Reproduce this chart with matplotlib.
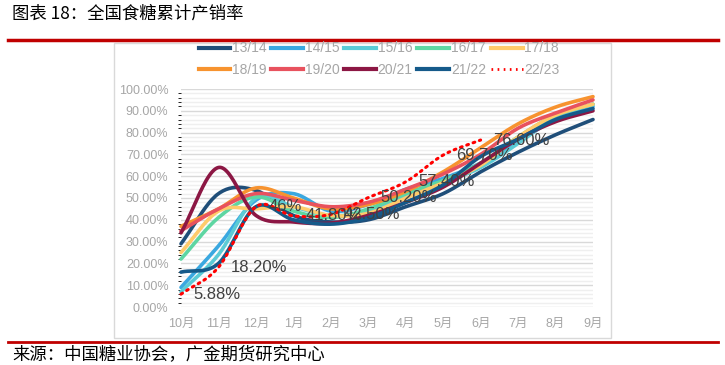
import numpy as np
import matplotlib
matplotlib.use('Agg')
import matplotlib.pyplot as plt
from matplotlib.ticker import MultipleLocator, FuncFormatter
from matplotlib.lines import Line2D

plt.rcParams['font.family'] = ['Liberation Sans', 'Noto Sans CJK SC', 'DejaVu Sans']

months = ['10月', '11月', '12月', '1月', '2月', '3月', '4月', '5月', '6月', '7月', '8月', '9月']

s1314 = [29, 52, 53.5, 42, 39, 40, 46, 52, 62, 71, 79, 86]
s1415 = [9, 28, 49, 52, 44, 47, 54, 59, 66, 76, 86, 92]
s1516 = [7, 24, 50, 46, 42, 44, 51, 57, 64, 75, 87, 93]
s1617 = [22, 41, 50.5, 44, 41, 45, 52, 58, 66, 78, 88, 93]
s1718 = [25, 44, 45, 46, 42, 43, 50, 57, 65, 78, 88, 93]
s1819 = [37, 45, 54.6, 50, 45, 47, 53, 62, 73, 84, 91.7, 96.5]
s1920 = [35, 45, 52, 49, 46, 48, 54, 61, 70, 82, 89, 95]
s2021 = [34, 64, 42, 39, 38.5, 42, 48, 55, 66, 77, 85, 90]
s2122 = [16, 20, 46, 40, 38, 41, 48, 56, 69, 77, 86, 91]
s2223 = [5.88, 18.2, 46, 41.8, 42.5, 50.2, 57.4, 69.7, 76.6]

names = ['13/14', '14/15', '15/16', '16/17', '17/18', '18/19', '19/20', '20/21', '21/22', '22/23']
colors = ['#1F4E79', '#3AA8E0', '#5BCBD6', '#5ED6A2', '#FFCB6B',
          '#F7932F', '#E8525E', '#8C1744', '#155A8A', '#FF0000']


def smooth(vals, n=24):
    # catmull-rom curve through the monthly points (like excel smoothed lines)
    y = np.asarray(vals, dtype=float)
    p = np.concatenate([[2 * y[0] - y[1]], y, [2 * y[-1] - y[-2]]])
    xs, ys = [], []
    for i in range(len(y) - 1):
        t = np.linspace(0, 1, n, endpoint=False)
        p0, p1, p2, p3 = p[i], p[i + 1], p[i + 2], p[i + 3]
        seg = 0.5 * ((2 * p1) + (-p0 + p2) * t + (2 * p0 - 5 * p1 + 4 * p2 - p3) * t ** 2
                     + (-p0 + 3 * p1 - 3 * p2 + p3) * t ** 3)
        xs.append(i + t)
        ys.append(seg)
    xs.append([len(y) - 1])
    ys.append([y[-1]])
    return np.concatenate(xs), np.concatenate(ys) / 100


fig = plt.figure(figsize=(7.25, 3.65), dpi=100)
ax = fig.add_axes([181 / 725, 1 - 307 / 365, 412 / 725, 218 / 365])

series = [s1314, s1415, s1516, s1617, s1718, s1819, s1920, s2021, s2122]
for vals, c in zip(series, colors[:9]):
    xs, ys = smooth(vals)
    ax.plot(xs, ys, color=c, lw=2.6, solid_capstyle='round', clip_on=False)

xs, ys = smooth(s2223)
ax.plot(xs, ys, color=colors[9], lw=2.2, ls=(0, (0.6, 1.6)), dash_capstyle='round', clip_on=False)
for i, v in enumerate(s2223):
    txt = f'{v:.2f}%' if v != 46 else '46%'
    ax.annotate(txt, (i, v / 100), xytext=(9, 0), textcoords='offset points',
                va='center', ha='left', fontsize=12, color='#404040')

ax.set_xlim(0, 11)
ax.set_ylim(0, 1)
ax.set_xticks(range(12))
ax.set_xticklabels(months)
ax.yaxis.set_major_locator(MultipleLocator(0.1))
ax.yaxis.set_minor_locator(MultipleLocator(0.02))
ax.yaxis.set_major_formatter(FuncFormatter(lambda v, pos: f'{v * 100:.2f}%'))
ax.tick_params(axis='both', length=0, labelsize=9, labelcolor='#A6A6A6')
ax.tick_params(axis='y', pad=9)
ax.tick_params(axis='x', pad=8)
ax.grid(axis='y', which='major', color='#D9D9D9', lw=1)
ax.grid(axis='y', which='minor', color='#EFEFEF', lw=1)
ax.set_axisbelow(True)
for sp in ax.spines.values():
    sp.set_visible(False)

handles = []
for i, (n, c) in enumerate(zip(names, colors)):
    if i == 9:
        handles.append(Line2D([], [], color=c, lw=2, ls=(0, (0.6, 1.6))))
    else:
        handles.append(Line2D([], [], color=c, lw=3))
# legend fills column by column, so reorder to get rows 13/14..17/18 and 18/19..22/23
order = [0, 5, 1, 6, 2, 7, 3, 8, 4, 9]
fig.legend([handles[i] for i in order], [names[i] for i in order],
           loc='upper left', bbox_to_anchor=(186 / 725, 1 - 29 / 365),
           ncol=5, frameon=False, fontsize=10, labelcolor='#A6A6A6',
           handlelength=2.3, handletextpad=0.1, columnspacing=0.35, labelspacing=0.55)

# chart frame and red rules
fig.add_artist(plt.Rectangle((114 / 725, 1 - 338 / 365), 497 / 725, 295 / 365,
                             transform=fig.transFigure, fill=False, ec='#D9D9D9', lw=1))
fig.add_artist(Line2D([8 / 725, 718 / 725], [1 - 40 / 365] * 2, color='#C00000', lw=2.5))
fig.add_artist(Line2D([8 / 725, 718 / 725], [1 - 342 / 365] * 2, color='#C00000', lw=2))

fig.text(12 / 725, 1 - 14 / 365, '图表 18：全国食糖累计产销率', fontsize=12.5, va='center',
         family=['Noto Sans CJK SC'], color='#000000')
fig.text(12 / 725, 1 - 354 / 365, '来源：中国糖业协会，广金期货研究中心', fontsize=12.5, va='center',
         family=['Noto Sans CJK SC'], color='#000000')

fig.savefig('out.png', dpi=100)
